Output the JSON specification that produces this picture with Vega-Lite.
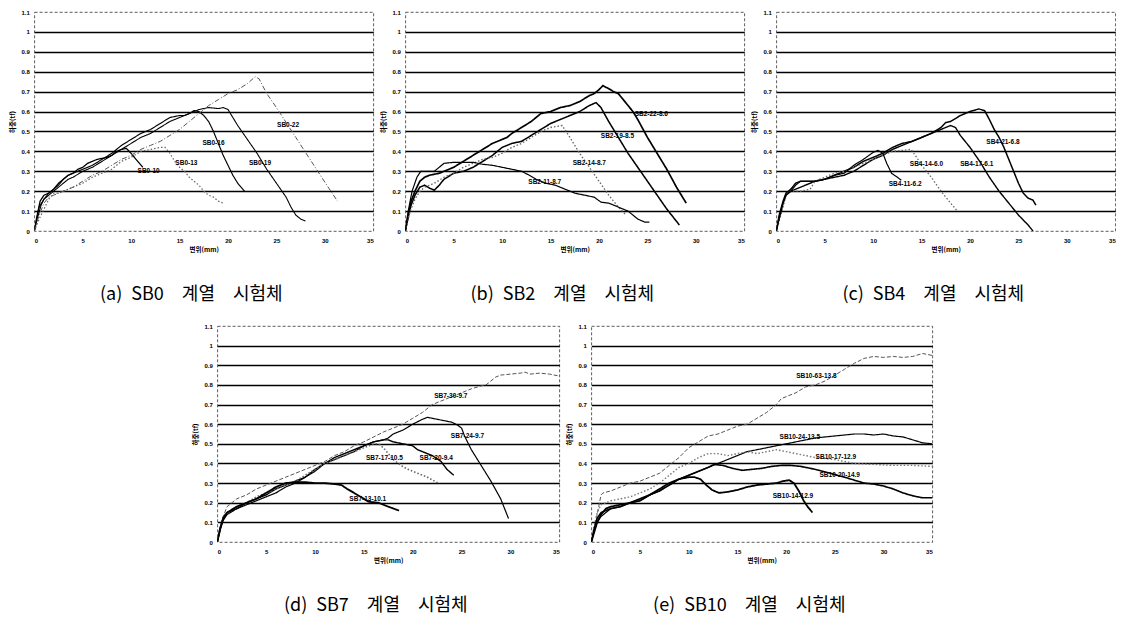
{
  "$schema": "https://vega.github.io/schema/vega-lite/v6.json",
  "background": "white",
  "padding": {"left": 8, "top": 8, "right": 0, "bottom": 0},
  "datasets": {
    "curves": [
      {"p":"a","s":"SB0-10","x":0,"y":0},{"p":"a","s":"SB0-10","x":0.3,"y":0.08},{"p":"a","s":"SB0-10","x":0.6,"y":0.15},{"p":"a","s":"SB0-10","x":1,"y":0.18},{"p":"a","s":"SB0-10","x":1.5,"y":0.19},{"p":"a","s":"SB0-10","x":2,"y":0.21},{"p":"a","s":"SB0-10","x":2.5,"y":0.24},{"p":"a","s":"SB0-10","x":3,"y":0.26},{"p":"a","s":"SB0-10","x":3.5,"y":0.28},{"p":"a","s":"SB0-10","x":4,"y":0.29},{"p":"a","s":"SB0-10","x":4.5,"y":0.31},{"p":"a","s":"SB0-10","x":5,"y":0.32},{"p":"a","s":"SB0-10","x":5.5,"y":0.34},{"p":"a","s":"SB0-10","x":6,"y":0.35},{"p":"a","s":"SB0-10","x":6.5,"y":0.36},{"p":"a","s":"SB0-10","x":7,"y":0.365},{"p":"a","s":"SB0-10","x":7.5,"y":0.37},{"p":"a","s":"SB0-10","x":8,"y":0.38},{"p":"a","s":"SB0-10","x":8.5,"y":0.4},{"p":"a","s":"SB0-10","x":9,"y":0.41},{"p":"a","s":"SB0-10","x":9.5,"y":0.415},{"p":"a","s":"SB0-10","x":10,"y":0.39},{"p":"a","s":"SB0-10","x":10.5,"y":0.36},{"p":"a","s":"SB0-10","x":11.2,"y":0.32},
      {"p":"a","s":"SB0-13","x":0,"y":0},{"p":"a","s":"SB0-13","x":0.5,"y":0.06},{"p":"a","s":"SB0-13","x":1,"y":0.11},{"p":"a","s":"SB0-13","x":1.5,"y":0.16},{"p":"a","s":"SB0-13","x":2,"y":0.19},{"p":"a","s":"SB0-13","x":2.5,"y":0.19},{"p":"a","s":"SB0-13","x":3,"y":0.2},{"p":"a","s":"SB0-13","x":4,"y":0.22},{"p":"a","s":"SB0-13","x":5,"y":0.24},{"p":"a","s":"SB0-13","x":6,"y":0.27},{"p":"a","s":"SB0-13","x":7,"y":0.29},{"p":"a","s":"SB0-13","x":8,"y":0.31},{"p":"a","s":"SB0-13","x":9,"y":0.35},{"p":"a","s":"SB0-13","x":10,"y":0.37},{"p":"a","s":"SB0-13","x":11,"y":0.4},{"p":"a","s":"SB0-13","x":12,"y":0.41},{"p":"a","s":"SB0-13","x":13,"y":0.42},{"p":"a","s":"SB0-13","x":13.5,"y":0.42},{"p":"a","s":"SB0-13","x":14,"y":0.39},{"p":"a","s":"SB0-13","x":14.5,"y":0.35},{"p":"a","s":"SB0-13","x":15,"y":0.32},{"p":"a","s":"SB0-13","x":15.5,"y":0.3},{"p":"a","s":"SB0-13","x":16,"y":0.27},{"p":"a","s":"SB0-13","x":17,"y":0.23},{"p":"a","s":"SB0-13","x":17.5,"y":0.2},{"p":"a","s":"SB0-13","x":18,"y":0.18},{"p":"a","s":"SB0-13","x":18.5,"y":0.17},{"p":"a","s":"SB0-13","x":19,"y":0.15},{"p":"a","s":"SB0-13","x":19.5,"y":0.14},
      {"p":"a","s":"SB0-16","x":0,"y":0},{"p":"a","s":"SB0-16","x":0.2,"y":0.05},{"p":"a","s":"SB0-16","x":0.5,"y":0.12},{"p":"a","s":"SB0-16","x":1,"y":0.16},{"p":"a","s":"SB0-16","x":1.5,"y":0.19},{"p":"a","s":"SB0-16","x":2,"y":0.21},{"p":"a","s":"SB0-16","x":2.5,"y":0.23},{"p":"a","s":"SB0-16","x":3,"y":0.26},{"p":"a","s":"SB0-16","x":3.5,"y":0.28},{"p":"a","s":"SB0-16","x":4,"y":0.29},{"p":"a","s":"SB0-16","x":5,"y":0.31},{"p":"a","s":"SB0-16","x":6,"y":0.33},{"p":"a","s":"SB0-16","x":7,"y":0.36},{"p":"a","s":"SB0-16","x":8,"y":0.39},{"p":"a","s":"SB0-16","x":9,"y":0.43},{"p":"a","s":"SB0-16","x":10,"y":0.46},{"p":"a","s":"SB0-16","x":11,"y":0.49},{"p":"a","s":"SB0-16","x":12,"y":0.51},{"p":"a","s":"SB0-16","x":13,"y":0.54},{"p":"a","s":"SB0-16","x":14,"y":0.57},{"p":"a","s":"SB0-16","x":15,"y":0.58},{"p":"a","s":"SB0-16","x":15.5,"y":0.58},{"p":"a","s":"SB0-16","x":16,"y":0.59},{"p":"a","s":"SB0-16","x":16.5,"y":0.605},{"p":"a","s":"SB0-16","x":17,"y":0.6},{"p":"a","s":"SB0-16","x":17.5,"y":0.58},{"p":"a","s":"SB0-16","x":18,"y":0.55},{"p":"a","s":"SB0-16","x":18.5,"y":0.5},{"p":"a","s":"SB0-16","x":19,"y":0.44},{"p":"a","s":"SB0-16","x":19.5,"y":0.38},{"p":"a","s":"SB0-16","x":20,"y":0.33},{"p":"a","s":"SB0-16","x":20.5,"y":0.28},{"p":"a","s":"SB0-16","x":21,"y":0.24},{"p":"a","s":"SB0-16","x":21.7,"y":0.2},
      {"p":"a","s":"SB0-19","x":0,"y":0},{"p":"a","s":"SB0-19","x":0.3,"y":0.06},{"p":"a","s":"SB0-19","x":0.7,"y":0.13},{"p":"a","s":"SB0-19","x":1,"y":0.16},{"p":"a","s":"SB0-19","x":1.5,"y":0.18},{"p":"a","s":"SB0-19","x":2,"y":0.2},{"p":"a","s":"SB0-19","x":2.5,"y":0.22},{"p":"a","s":"SB0-19","x":3,"y":0.24},{"p":"a","s":"SB0-19","x":3.5,"y":0.26},{"p":"a","s":"SB0-19","x":4,"y":0.27},{"p":"a","s":"SB0-19","x":5,"y":0.3},{"p":"a","s":"SB0-19","x":6,"y":0.32},{"p":"a","s":"SB0-19","x":7,"y":0.35},{"p":"a","s":"SB0-19","x":8,"y":0.38},{"p":"a","s":"SB0-19","x":9,"y":0.41},{"p":"a","s":"SB0-19","x":10,"y":0.44},{"p":"a","s":"SB0-19","x":11,"y":0.47},{"p":"a","s":"SB0-19","x":12,"y":0.49},{"p":"a","s":"SB0-19","x":13,"y":0.52},{"p":"a","s":"SB0-19","x":14,"y":0.55},{"p":"a","s":"SB0-19","x":15,"y":0.57},{"p":"a","s":"SB0-19","x":16,"y":0.59},{"p":"a","s":"SB0-19","x":17,"y":0.61},{"p":"a","s":"SB0-19","x":18,"y":0.62},{"p":"a","s":"SB0-19","x":19,"y":0.615},{"p":"a","s":"SB0-19","x":19.5,"y":0.62},{"p":"a","s":"SB0-19","x":20,"y":0.61},{"p":"a","s":"SB0-19","x":20.5,"y":0.57},{"p":"a","s":"SB0-19","x":21,"y":0.53},{"p":"a","s":"SB0-19","x":22,"y":0.46},{"p":"a","s":"SB0-19","x":23,"y":0.39},{"p":"a","s":"SB0-19","x":24,"y":0.31},{"p":"a","s":"SB0-19","x":25,"y":0.24},{"p":"a","s":"SB0-19","x":26,"y":0.17},{"p":"a","s":"SB0-19","x":26.5,"y":0.12},{"p":"a","s":"SB0-19","x":27,"y":0.08},{"p":"a","s":"SB0-19","x":27.5,"y":0.06},{"p":"a","s":"SB0-19","x":28,"y":0.05},
      {"p":"a","s":"SB0-22","x":0,"y":0},{"p":"a","s":"SB0-22","x":0.5,"y":0.08},{"p":"a","s":"SB0-22","x":1,"y":0.14},{"p":"a","s":"SB0-22","x":1.5,"y":0.17},{"p":"a","s":"SB0-22","x":2,"y":0.18},{"p":"a","s":"SB0-22","x":3,"y":0.2},{"p":"a","s":"SB0-22","x":4,"y":0.22},{"p":"a","s":"SB0-22","x":5,"y":0.25},{"p":"a","s":"SB0-22","x":6,"y":0.28},{"p":"a","s":"SB0-22","x":7,"y":0.3},{"p":"a","s":"SB0-22","x":8,"y":0.33},{"p":"a","s":"SB0-22","x":9,"y":0.36},{"p":"a","s":"SB0-22","x":10,"y":0.38},{"p":"a","s":"SB0-22","x":11,"y":0.41},{"p":"a","s":"SB0-22","x":12,"y":0.43},{"p":"a","s":"SB0-22","x":13,"y":0.45},{"p":"a","s":"SB0-22","x":14,"y":0.48},{"p":"a","s":"SB0-22","x":15,"y":0.51},{"p":"a","s":"SB0-22","x":16,"y":0.55},{"p":"a","s":"SB0-22","x":17,"y":0.59},{"p":"a","s":"SB0-22","x":18,"y":0.63},{"p":"a","s":"SB0-22","x":19,"y":0.66},{"p":"a","s":"SB0-22","x":20,"y":0.69},{"p":"a","s":"SB0-22","x":21,"y":0.71},{"p":"a","s":"SB0-22","x":22,"y":0.74},{"p":"a","s":"SB0-22","x":22.8,"y":0.775},{"p":"a","s":"SB0-22","x":23.2,"y":0.765},{"p":"a","s":"SB0-22","x":24,"y":0.69},{"p":"a","s":"SB0-22","x":25,"y":0.62},{"p":"a","s":"SB0-22","x":26,"y":0.545},{"p":"a","s":"SB0-22","x":27,"y":0.47},{"p":"a","s":"SB0-22","x":28,"y":0.395},{"p":"a","s":"SB0-22","x":29,"y":0.32},{"p":"a","s":"SB0-22","x":30,"y":0.245},{"p":"a","s":"SB0-22","x":31.3,"y":0.15},

      {"p":"b","s":"SB2-22-8.6","x":0,"y":0},{"p":"b","s":"SB2-22-8.6","x":0.3,"y":0.08},{"p":"b","s":"SB2-22-8.6","x":0.6,"y":0.15},{"p":"b","s":"SB2-22-8.6","x":1,"y":0.2},{"p":"b","s":"SB2-22-8.6","x":1.5,"y":0.25},{"p":"b","s":"SB2-22-8.6","x":2,"y":0.27},{"p":"b","s":"SB2-22-8.6","x":2.5,"y":0.28},{"p":"b","s":"SB2-22-8.6","x":3,"y":0.285},{"p":"b","s":"SB2-22-8.6","x":3.5,"y":0.29},{"p":"b","s":"SB2-22-8.6","x":4,"y":0.3},{"p":"b","s":"SB2-22-8.6","x":5,"y":0.32},{"p":"b","s":"SB2-22-8.6","x":6,"y":0.35},{"p":"b","s":"SB2-22-8.6","x":7,"y":0.38},{"p":"b","s":"SB2-22-8.6","x":8,"y":0.41},{"p":"b","s":"SB2-22-8.6","x":9,"y":0.44},{"p":"b","s":"SB2-22-8.6","x":10,"y":0.46},{"p":"b","s":"SB2-22-8.6","x":10.5,"y":0.47},{"p":"b","s":"SB2-22-8.6","x":11,"y":0.49},{"p":"b","s":"SB2-22-8.6","x":12,"y":0.52},{"p":"b","s":"SB2-22-8.6","x":13,"y":0.55},{"p":"b","s":"SB2-22-8.6","x":14,"y":0.59},{"p":"b","s":"SB2-22-8.6","x":15,"y":0.6},{"p":"b","s":"SB2-22-8.6","x":16,"y":0.62},{"p":"b","s":"SB2-22-8.6","x":17,"y":0.63},{"p":"b","s":"SB2-22-8.6","x":18,"y":0.65},{"p":"b","s":"SB2-22-8.6","x":19,"y":0.68},{"p":"b","s":"SB2-22-8.6","x":19.5,"y":0.69},{"p":"b","s":"SB2-22-8.6","x":20,"y":0.71},{"p":"b","s":"SB2-22-8.6","x":20.4,"y":0.73},{"p":"b","s":"SB2-22-8.6","x":21,"y":0.715},{"p":"b","s":"SB2-22-8.6","x":21.5,"y":0.7},{"p":"b","s":"SB2-22-8.6","x":22,"y":0.69},{"p":"b","s":"SB2-22-8.6","x":22.5,"y":0.66},{"p":"b","s":"SB2-22-8.6","x":23,"y":0.63},{"p":"b","s":"SB2-22-8.6","x":23.5,"y":0.6},{"p":"b","s":"SB2-22-8.6","x":24,"y":0.56},{"p":"b","s":"SB2-22-8.6","x":25,"y":0.47},{"p":"b","s":"SB2-22-8.6","x":26,"y":0.39},{"p":"b","s":"SB2-22-8.6","x":27,"y":0.31},{"p":"b","s":"SB2-22-8.6","x":28,"y":0.22},{"p":"b","s":"SB2-22-8.6","x":29,"y":0.14},
      {"p":"b","s":"SB2-19-8.5","x":0,"y":0},{"p":"b","s":"SB2-19-8.5","x":0.3,"y":0.07},{"p":"b","s":"SB2-19-8.5","x":0.6,"y":0.13},{"p":"b","s":"SB2-19-8.5","x":1,"y":0.18},{"p":"b","s":"SB2-19-8.5","x":1.5,"y":0.22},{"p":"b","s":"SB2-19-8.5","x":2,"y":0.23},{"p":"b","s":"SB2-19-8.5","x":2.5,"y":0.215},{"p":"b","s":"SB2-19-8.5","x":3,"y":0.205},{"p":"b","s":"SB2-19-8.5","x":3.5,"y":0.23},{"p":"b","s":"SB2-19-8.5","x":4,"y":0.26},{"p":"b","s":"SB2-19-8.5","x":5,"y":0.29},{"p":"b","s":"SB2-19-8.5","x":6,"y":0.3},{"p":"b","s":"SB2-19-8.5","x":7,"y":0.32},{"p":"b","s":"SB2-19-8.5","x":8,"y":0.35},{"p":"b","s":"SB2-19-8.5","x":9,"y":0.38},{"p":"b","s":"SB2-19-8.5","x":10,"y":0.42},{"p":"b","s":"SB2-19-8.5","x":11,"y":0.44},{"p":"b","s":"SB2-19-8.5","x":12,"y":0.45},{"p":"b","s":"SB2-19-8.5","x":13,"y":0.48},{"p":"b","s":"SB2-19-8.5","x":14,"y":0.51},{"p":"b","s":"SB2-19-8.5","x":15,"y":0.54},{"p":"b","s":"SB2-19-8.5","x":16,"y":0.56},{"p":"b","s":"SB2-19-8.5","x":17,"y":0.58},{"p":"b","s":"SB2-19-8.5","x":18,"y":0.6},{"p":"b","s":"SB2-19-8.5","x":19,"y":0.63},{"p":"b","s":"SB2-19-8.5","x":19.7,"y":0.645},{"p":"b","s":"SB2-19-8.5","x":20.2,"y":0.62},{"p":"b","s":"SB2-19-8.5","x":21,"y":0.55},{"p":"b","s":"SB2-19-8.5","x":22,"y":0.47},{"p":"b","s":"SB2-19-8.5","x":23,"y":0.39},{"p":"b","s":"SB2-19-8.5","x":24,"y":0.32},{"p":"b","s":"SB2-19-8.5","x":25,"y":0.25},{"p":"b","s":"SB2-19-8.5","x":26,"y":0.18},{"p":"b","s":"SB2-19-8.5","x":27,"y":0.11},{"p":"b","s":"SB2-19-8.5","x":28.3,"y":0.03},
      {"p":"b","s":"SB2-14-8.7","x":0,"y":0},{"p":"b","s":"SB2-14-8.7","x":0.5,"y":0.1},{"p":"b","s":"SB2-14-8.7","x":1,"y":0.16},{"p":"b","s":"SB2-14-8.7","x":1.5,"y":0.2},{"p":"b","s":"SB2-14-8.7","x":2,"y":0.22},{"p":"b","s":"SB2-14-8.7","x":3,"y":0.24},{"p":"b","s":"SB2-14-8.7","x":4,"y":0.27},{"p":"b","s":"SB2-14-8.7","x":5,"y":0.29},{"p":"b","s":"SB2-14-8.7","x":6,"y":0.32},{"p":"b","s":"SB2-14-8.7","x":7,"y":0.34},{"p":"b","s":"SB2-14-8.7","x":8,"y":0.36},{"p":"b","s":"SB2-14-8.7","x":9,"y":0.37},{"p":"b","s":"SB2-14-8.7","x":10,"y":0.39},{"p":"b","s":"SB2-14-8.7","x":11,"y":0.42},{"p":"b","s":"SB2-14-8.7","x":12,"y":0.44},{"p":"b","s":"SB2-14-8.7","x":13,"y":0.47},{"p":"b","s":"SB2-14-8.7","x":14,"y":0.5},{"p":"b","s":"SB2-14-8.7","x":15,"y":0.52},{"p":"b","s":"SB2-14-8.7","x":16.2,"y":0.53},{"p":"b","s":"SB2-14-8.7","x":17,"y":0.47},{"p":"b","s":"SB2-14-8.7","x":18,"y":0.39},{"p":"b","s":"SB2-14-8.7","x":19,"y":0.32},{"p":"b","s":"SB2-14-8.7","x":20,"y":0.25},{"p":"b","s":"SB2-14-8.7","x":21,"y":0.18},{"p":"b","s":"SB2-14-8.7","x":22,"y":0.12},{"p":"b","s":"SB2-14-8.7","x":22.8,"y":0.08},
      {"p":"b","s":"SB2-11-8.7","x":0,"y":0},{"p":"b","s":"SB2-11-8.7","x":0.3,"y":0.1},{"p":"b","s":"SB2-11-8.7","x":0.7,"y":0.2},{"p":"b","s":"SB2-11-8.7","x":1.2,"y":0.27},{"p":"b","s":"SB2-11-8.7","x":1.6,"y":0.3},{"p":"b","s":"SB2-11-8.7","x":2,"y":0.3},{"p":"b","s":"SB2-11-8.7","x":3,"y":0.3},{"p":"b","s":"SB2-11-8.7","x":3.5,"y":0.32},{"p":"b","s":"SB2-11-8.7","x":4,"y":0.34},{"p":"b","s":"SB2-11-8.7","x":5,"y":0.345},{"p":"b","s":"SB2-11-8.7","x":6,"y":0.345},{"p":"b","s":"SB2-11-8.7","x":7,"y":0.345},{"p":"b","s":"SB2-11-8.7","x":8,"y":0.335},{"p":"b","s":"SB2-11-8.7","x":9,"y":0.33},{"p":"b","s":"SB2-11-8.7","x":10,"y":0.32},{"p":"b","s":"SB2-11-8.7","x":11,"y":0.31},{"p":"b","s":"SB2-11-8.7","x":12,"y":0.3},{"p":"b","s":"SB2-11-8.7","x":12.8,"y":0.28},{"p":"b","s":"SB2-11-8.7","x":13.5,"y":0.26},{"p":"b","s":"SB2-11-8.7","x":14.5,"y":0.24},{"p":"b","s":"SB2-11-8.7","x":15.5,"y":0.23},{"p":"b","s":"SB2-11-8.7","x":16.5,"y":0.21},{"p":"b","s":"SB2-11-8.7","x":17.5,"y":0.19},{"p":"b","s":"SB2-11-8.7","x":18.5,"y":0.18},{"p":"b","s":"SB2-11-8.7","x":19.5,"y":0.17},{"p":"b","s":"SB2-11-8.7","x":20.2,"y":0.145},{"p":"b","s":"SB2-11-8.7","x":21,"y":0.14},{"p":"b","s":"SB2-11-8.7","x":22,"y":0.12},{"p":"b","s":"SB2-11-8.7","x":23,"y":0.1},{"p":"b","s":"SB2-11-8.7","x":23.5,"y":0.08},{"p":"b","s":"SB2-11-8.7","x":24,"y":0.06},{"p":"b","s":"SB2-11-8.7","x":24.7,"y":0.045},{"p":"b","s":"SB2-11-8.7","x":25.2,"y":0.045},

      {"p":"c","s":"SB4-21-6.8","x":0,"y":0},{"p":"c","s":"SB4-21-6.8","x":0.3,"y":0.08},{"p":"c","s":"SB4-21-6.8","x":0.7,"y":0.15},{"p":"c","s":"SB4-21-6.8","x":1,"y":0.19},{"p":"c","s":"SB4-21-6.8","x":1.5,"y":0.21},{"p":"c","s":"SB4-21-6.8","x":2,"y":0.24},{"p":"c","s":"SB4-21-6.8","x":2.5,"y":0.25},{"p":"c","s":"SB4-21-6.8","x":3,"y":0.25},{"p":"c","s":"SB4-21-6.8","x":4,"y":0.25},{"p":"c","s":"SB4-21-6.8","x":5,"y":0.26},{"p":"c","s":"SB4-21-6.8","x":6,"y":0.28},{"p":"c","s":"SB4-21-6.8","x":7,"y":0.3},{"p":"c","s":"SB4-21-6.8","x":8,"y":0.32},{"p":"c","s":"SB4-21-6.8","x":9,"y":0.35},{"p":"c","s":"SB4-21-6.8","x":10,"y":0.37},{"p":"c","s":"SB4-21-6.8","x":11,"y":0.39},{"p":"c","s":"SB4-21-6.8","x":12,"y":0.42},{"p":"c","s":"SB4-21-6.8","x":13,"y":0.44},{"p":"c","s":"SB4-21-6.8","x":14,"y":0.45},{"p":"c","s":"SB4-21-6.8","x":15,"y":0.47},{"p":"c","s":"SB4-21-6.8","x":16,"y":0.49},{"p":"c","s":"SB4-21-6.8","x":17,"y":0.52},{"p":"c","s":"SB4-21-6.8","x":17.5,"y":0.545},{"p":"c","s":"SB4-21-6.8","x":18,"y":0.55},{"p":"c","s":"SB4-21-6.8","x":19,"y":0.58},{"p":"c","s":"SB4-21-6.8","x":20,"y":0.6},{"p":"c","s":"SB4-21-6.8","x":20.9,"y":0.613},{"p":"c","s":"SB4-21-6.8","x":21.5,"y":0.605},{"p":"c","s":"SB4-21-6.8","x":22,"y":0.56},{"p":"c","s":"SB4-21-6.8","x":22.5,"y":0.51},{"p":"c","s":"SB4-21-6.8","x":23,"y":0.47},{"p":"c","s":"SB4-21-6.8","x":23.5,"y":0.42},{"p":"c","s":"SB4-21-6.8","x":24,"y":0.36},{"p":"c","s":"SB4-21-6.8","x":24.5,"y":0.3},{"p":"c","s":"SB4-21-6.8","x":25,"y":0.24},{"p":"c","s":"SB4-21-6.8","x":25.5,"y":0.19},{"p":"c","s":"SB4-21-6.8","x":26,"y":0.165},{"p":"c","s":"SB4-21-6.8","x":26.5,"y":0.155},{"p":"c","s":"SB4-21-6.8","x":26.8,"y":0.13},
      {"p":"c","s":"SB4-17-6.1","x":0,"y":0},{"p":"c","s":"SB4-17-6.1","x":0.3,"y":0.07},{"p":"c","s":"SB4-17-6.1","x":0.7,"y":0.14},{"p":"c","s":"SB4-17-6.1","x":1,"y":0.18},{"p":"c","s":"SB4-17-6.1","x":1.5,"y":0.2},{"p":"c","s":"SB4-17-6.1","x":2,"y":0.21},{"p":"c","s":"SB4-17-6.1","x":3,"y":0.23},{"p":"c","s":"SB4-17-6.1","x":4,"y":0.25},{"p":"c","s":"SB4-17-6.1","x":5,"y":0.26},{"p":"c","s":"SB4-17-6.1","x":6,"y":0.27},{"p":"c","s":"SB4-17-6.1","x":7,"y":0.28},{"p":"c","s":"SB4-17-6.1","x":8,"y":0.3},{"p":"c","s":"SB4-17-6.1","x":9,"y":0.33},{"p":"c","s":"SB4-17-6.1","x":10,"y":0.36},{"p":"c","s":"SB4-17-6.1","x":11,"y":0.38},{"p":"c","s":"SB4-17-6.1","x":12,"y":0.41},{"p":"c","s":"SB4-17-6.1","x":13,"y":0.43},{"p":"c","s":"SB4-17-6.1","x":14,"y":0.45},{"p":"c","s":"SB4-17-6.1","x":15,"y":0.47},{"p":"c","s":"SB4-17-6.1","x":16,"y":0.49},{"p":"c","s":"SB4-17-6.1","x":17,"y":0.51},{"p":"c","s":"SB4-17-6.1","x":18,"y":0.53},{"p":"c","s":"SB4-17-6.1","x":18.5,"y":0.52},{"p":"c","s":"SB4-17-6.1","x":19,"y":0.48},{"p":"c","s":"SB4-17-6.1","x":20,"y":0.42},{"p":"c","s":"SB4-17-6.1","x":21,"y":0.35},{"p":"c","s":"SB4-17-6.1","x":22,"y":0.27},{"p":"c","s":"SB4-17-6.1","x":23,"y":0.2},{"p":"c","s":"SB4-17-6.1","x":24,"y":0.14},{"p":"c","s":"SB4-17-6.1","x":25,"y":0.08},{"p":"c","s":"SB4-17-6.1","x":26,"y":0.03},{"p":"c","s":"SB4-17-6.1","x":26.5,"y":0.0},
      {"p":"c","s":"SB4-14-6.0","x":0,"y":0},{"p":"c","s":"SB4-14-6.0","x":0.3,"y":0.05},{"p":"c","s":"SB4-14-6.0","x":0.7,"y":0.12},{"p":"c","s":"SB4-14-6.0","x":1,"y":0.18},{"p":"c","s":"SB4-14-6.0","x":1.5,"y":0.2},{"p":"c","s":"SB4-14-6.0","x":2,"y":0.2},{"p":"c","s":"SB4-14-6.0","x":2.5,"y":0.2},{"p":"c","s":"SB4-14-6.0","x":3,"y":0.205},{"p":"c","s":"SB4-14-6.0","x":3.5,"y":0.21},{"p":"c","s":"SB4-14-6.0","x":4,"y":0.25},{"p":"c","s":"SB4-14-6.0","x":5,"y":0.27},{"p":"c","s":"SB4-14-6.0","x":6,"y":0.29},{"p":"c","s":"SB4-14-6.0","x":7,"y":0.3},{"p":"c","s":"SB4-14-6.0","x":8,"y":0.32},{"p":"c","s":"SB4-14-6.0","x":9,"y":0.34},{"p":"c","s":"SB4-14-6.0","x":10,"y":0.36},{"p":"c","s":"SB4-14-6.0","x":11,"y":0.38},{"p":"c","s":"SB4-14-6.0","x":12,"y":0.4},{"p":"c","s":"SB4-14-6.0","x":13,"y":0.405},{"p":"c","s":"SB4-14-6.0","x":13.9,"y":0.41},{"p":"c","s":"SB4-14-6.0","x":14.5,"y":0.37},{"p":"c","s":"SB4-14-6.0","x":15,"y":0.33},{"p":"c","s":"SB4-14-6.0","x":16,"y":0.27},{"p":"c","s":"SB4-14-6.0","x":17,"y":0.2},{"p":"c","s":"SB4-14-6.0","x":18,"y":0.14},{"p":"c","s":"SB4-14-6.0","x":18.7,"y":0.1},
      {"p":"c","s":"SB4-11-6.2","x":0,"y":0},{"p":"c","s":"SB4-11-6.2","x":0.3,"y":0.06},{"p":"c","s":"SB4-11-6.2","x":0.7,"y":0.14},{"p":"c","s":"SB4-11-6.2","x":1,"y":0.18},{"p":"c","s":"SB4-11-6.2","x":1.5,"y":0.2},{"p":"c","s":"SB4-11-6.2","x":2,"y":0.23},{"p":"c","s":"SB4-11-6.2","x":2.5,"y":0.25},{"p":"c","s":"SB4-11-6.2","x":3,"y":0.25},{"p":"c","s":"SB4-11-6.2","x":4,"y":0.25},{"p":"c","s":"SB4-11-6.2","x":5,"y":0.26},{"p":"c","s":"SB4-11-6.2","x":6,"y":0.28},{"p":"c","s":"SB4-11-6.2","x":7,"y":0.29},{"p":"c","s":"SB4-11-6.2","x":8,"y":0.33},{"p":"c","s":"SB4-11-6.2","x":9,"y":0.36},{"p":"c","s":"SB4-11-6.2","x":10,"y":0.395},{"p":"c","s":"SB4-11-6.2","x":10.5,"y":0.405},{"p":"c","s":"SB4-11-6.2","x":11,"y":0.39},{"p":"c","s":"SB4-11-6.2","x":11.4,"y":0.34},{"p":"c","s":"SB4-11-6.2","x":11.9,"y":0.29},{"p":"c","s":"SB4-11-6.2","x":12.5,"y":0.27},{"p":"c","s":"SB4-11-6.2","x":12.9,"y":0.255},

      {"p":"d","s":"SB7-30-9.7","x":0,"y":0},{"p":"d","s":"SB7-30-9.7","x":0.3,"y":0.07},{"p":"d","s":"SB7-30-9.7","x":0.6,"y":0.13},{"p":"d","s":"SB7-30-9.7","x":1,"y":0.18},{"p":"d","s":"SB7-30-9.7","x":1.5,"y":0.2},{"p":"d","s":"SB7-30-9.7","x":2,"y":0.22},{"p":"d","s":"SB7-30-9.7","x":3,"y":0.24},{"p":"d","s":"SB7-30-9.7","x":4,"y":0.27},{"p":"d","s":"SB7-30-9.7","x":5,"y":0.29},{"p":"d","s":"SB7-30-9.7","x":6,"y":0.31},{"p":"d","s":"SB7-30-9.7","x":7,"y":0.33},{"p":"d","s":"SB7-30-9.7","x":8,"y":0.35},{"p":"d","s":"SB7-30-9.7","x":9,"y":0.37},{"p":"d","s":"SB7-30-9.7","x":10,"y":0.39},{"p":"d","s":"SB7-30-9.7","x":11,"y":0.41},{"p":"d","s":"SB7-30-9.7","x":12,"y":0.44},{"p":"d","s":"SB7-30-9.7","x":13,"y":0.46},{"p":"d","s":"SB7-30-9.7","x":14,"y":0.49},{"p":"d","s":"SB7-30-9.7","x":15,"y":0.51},{"p":"d","s":"SB7-30-9.7","x":16,"y":0.535},{"p":"d","s":"SB7-30-9.7","x":17,"y":0.56},{"p":"d","s":"SB7-30-9.7","x":18,"y":0.58},{"p":"d","s":"SB7-30-9.7","x":19,"y":0.6},{"p":"d","s":"SB7-30-9.7","x":20,"y":0.63},{"p":"d","s":"SB7-30-9.7","x":21,"y":0.66},{"p":"d","s":"SB7-30-9.7","x":22,"y":0.7},{"p":"d","s":"SB7-30-9.7","x":23,"y":0.72},{"p":"d","s":"SB7-30-9.7","x":24,"y":0.74},{"p":"d","s":"SB7-30-9.7","x":25,"y":0.76},{"p":"d","s":"SB7-30-9.7","x":26,"y":0.78},{"p":"d","s":"SB7-30-9.7","x":27,"y":0.795},{"p":"d","s":"SB7-30-9.7","x":27.5,"y":0.8},{"p":"d","s":"SB7-30-9.7","x":28,"y":0.82},{"p":"d","s":"SB7-30-9.7","x":28.5,"y":0.84},{"p":"d","s":"SB7-30-9.7","x":29,"y":0.85},{"p":"d","s":"SB7-30-9.7","x":30,"y":0.855},{"p":"d","s":"SB7-30-9.7","x":31,"y":0.86},{"p":"d","s":"SB7-30-9.7","x":31.5,"y":0.865},{"p":"d","s":"SB7-30-9.7","x":32,"y":0.855},{"p":"d","s":"SB7-30-9.7","x":33,"y":0.86},{"p":"d","s":"SB7-30-9.7","x":34,"y":0.855},{"p":"d","s":"SB7-30-9.7","x":35,"y":0.845},
      {"p":"d","s":"SB7-24-9.7","x":0,"y":0},{"p":"d","s":"SB7-24-9.7","x":0.3,"y":0.06},{"p":"d","s":"SB7-24-9.7","x":0.6,"y":0.11},{"p":"d","s":"SB7-24-9.7","x":1,"y":0.14},{"p":"d","s":"SB7-24-9.7","x":1.5,"y":0.155},{"p":"d","s":"SB7-24-9.7","x":2,"y":0.17},{"p":"d","s":"SB7-24-9.7","x":3,"y":0.19},{"p":"d","s":"SB7-24-9.7","x":4,"y":0.21},{"p":"d","s":"SB7-24-9.7","x":5,"y":0.23},{"p":"d","s":"SB7-24-9.7","x":6,"y":0.25},{"p":"d","s":"SB7-24-9.7","x":7,"y":0.28},{"p":"d","s":"SB7-24-9.7","x":8,"y":0.3},{"p":"d","s":"SB7-24-9.7","x":9,"y":0.33},{"p":"d","s":"SB7-24-9.7","x":10,"y":0.36},{"p":"d","s":"SB7-24-9.7","x":11,"y":0.4},{"p":"d","s":"SB7-24-9.7","x":12,"y":0.42},{"p":"d","s":"SB7-24-9.7","x":13,"y":0.44},{"p":"d","s":"SB7-24-9.7","x":14,"y":0.46},{"p":"d","s":"SB7-24-9.7","x":15,"y":0.49},{"p":"d","s":"SB7-24-9.7","x":16,"y":0.51},{"p":"d","s":"SB7-24-9.7","x":17,"y":0.52},{"p":"d","s":"SB7-24-9.7","x":17.5,"y":0.53},{"p":"d","s":"SB7-24-9.7","x":18,"y":0.55},{"p":"d","s":"SB7-24-9.7","x":19,"y":0.57},{"p":"d","s":"SB7-24-9.7","x":20,"y":0.6},{"p":"d","s":"SB7-24-9.7","x":21,"y":0.625},{"p":"d","s":"SB7-24-9.7","x":21.5,"y":0.635},{"p":"d","s":"SB7-24-9.7","x":22,"y":0.63},{"p":"d","s":"SB7-24-9.7","x":23,"y":0.62},{"p":"d","s":"SB7-24-9.7","x":24,"y":0.61},{"p":"d","s":"SB7-24-9.7","x":24.6,"y":0.595},{"p":"d","s":"SB7-24-9.7","x":25,"y":0.58},{"p":"d","s":"SB7-24-9.7","x":25.3,"y":0.54},{"p":"d","s":"SB7-24-9.7","x":26,"y":0.47},{"p":"d","s":"SB7-24-9.7","x":27,"y":0.39},{"p":"d","s":"SB7-24-9.7","x":28,"y":0.31},{"p":"d","s":"SB7-24-9.7","x":29,"y":0.22},{"p":"d","s":"SB7-24-9.7","x":29.8,"y":0.12},
      {"p":"d","s":"SB7-20-9.4","x":0,"y":0},{"p":"d","s":"SB7-20-9.4","x":0.3,"y":0.07},{"p":"d","s":"SB7-20-9.4","x":0.6,"y":0.12},{"p":"d","s":"SB7-20-9.4","x":1,"y":0.15},{"p":"d","s":"SB7-20-9.4","x":2,"y":0.17},{"p":"d","s":"SB7-20-9.4","x":3,"y":0.2},{"p":"d","s":"SB7-20-9.4","x":4,"y":0.22},{"p":"d","s":"SB7-20-9.4","x":5,"y":0.24},{"p":"d","s":"SB7-20-9.4","x":6,"y":0.27},{"p":"d","s":"SB7-20-9.4","x":7,"y":0.29},{"p":"d","s":"SB7-20-9.4","x":8,"y":0.31},{"p":"d","s":"SB7-20-9.4","x":9,"y":0.33},{"p":"d","s":"SB7-20-9.4","x":10,"y":0.37},{"p":"d","s":"SB7-20-9.4","x":11,"y":0.4},{"p":"d","s":"SB7-20-9.4","x":12,"y":0.43},{"p":"d","s":"SB7-20-9.4","x":13,"y":0.45},{"p":"d","s":"SB7-20-9.4","x":14,"y":0.47},{"p":"d","s":"SB7-20-9.4","x":15,"y":0.49},{"p":"d","s":"SB7-20-9.4","x":16,"y":0.51},{"p":"d","s":"SB7-20-9.4","x":17,"y":0.52},{"p":"d","s":"SB7-20-9.4","x":17.5,"y":0.52},{"p":"d","s":"SB7-20-9.4","x":18,"y":0.51},{"p":"d","s":"SB7-20-9.4","x":19,"y":0.5},{"p":"d","s":"SB7-20-9.4","x":20,"y":0.49},{"p":"d","s":"SB7-20-9.4","x":20.5,"y":0.47},{"p":"d","s":"SB7-20-9.4","x":21,"y":0.46},{"p":"d","s":"SB7-20-9.4","x":22,"y":0.44},{"p":"d","s":"SB7-20-9.4","x":22.9,"y":0.41},{"p":"d","s":"SB7-20-9.4","x":23.5,"y":0.37},{"p":"d","s":"SB7-20-9.4","x":24.2,"y":0.34},
      {"p":"d","s":"SB7-17-10.5","x":0,"y":0},{"p":"d","s":"SB7-17-10.5","x":0.3,"y":0.08},{"p":"d","s":"SB7-17-10.5","x":0.6,"y":0.13},{"p":"d","s":"SB7-17-10.5","x":1,"y":0.15},{"p":"d","s":"SB7-17-10.5","x":2,"y":0.18},{"p":"d","s":"SB7-17-10.5","x":3,"y":0.2},{"p":"d","s":"SB7-17-10.5","x":4,"y":0.23},{"p":"d","s":"SB7-17-10.5","x":5,"y":0.25},{"p":"d","s":"SB7-17-10.5","x":6,"y":0.27},{"p":"d","s":"SB7-17-10.5","x":7,"y":0.29},{"p":"d","s":"SB7-17-10.5","x":8,"y":0.31},{"p":"d","s":"SB7-17-10.5","x":9,"y":0.34},{"p":"d","s":"SB7-17-10.5","x":10,"y":0.37},{"p":"d","s":"SB7-17-10.5","x":11,"y":0.4},{"p":"d","s":"SB7-17-10.5","x":12,"y":0.42},{"p":"d","s":"SB7-17-10.5","x":13,"y":0.44},{"p":"d","s":"SB7-17-10.5","x":14,"y":0.46},{"p":"d","s":"SB7-17-10.5","x":15,"y":0.48},{"p":"d","s":"SB7-17-10.5","x":16,"y":0.5},{"p":"d","s":"SB7-17-10.5","x":16.5,"y":0.5},{"p":"d","s":"SB7-17-10.5","x":17,"y":0.48},{"p":"d","s":"SB7-17-10.5","x":17.5,"y":0.45},{"p":"d","s":"SB7-17-10.5","x":18,"y":0.42},{"p":"d","s":"SB7-17-10.5","x":18.8,"y":0.39},{"p":"d","s":"SB7-17-10.5","x":19.5,"y":0.37},{"p":"d","s":"SB7-17-10.5","x":20.5,"y":0.35},{"p":"d","s":"SB7-17-10.5","x":21.5,"y":0.33},{"p":"d","s":"SB7-17-10.5","x":22.6,"y":0.3},
      {"p":"d","s":"SB7-13-10.1","x":0,"y":0},{"p":"d","s":"SB7-13-10.1","x":0.3,"y":0.07},{"p":"d","s":"SB7-13-10.1","x":0.6,"y":0.12},{"p":"d","s":"SB7-13-10.1","x":1,"y":0.15},{"p":"d","s":"SB7-13-10.1","x":2,"y":0.18},{"p":"d","s":"SB7-13-10.1","x":3,"y":0.2},{"p":"d","s":"SB7-13-10.1","x":4,"y":0.22},{"p":"d","s":"SB7-13-10.1","x":5,"y":0.25},{"p":"d","s":"SB7-13-10.1","x":6,"y":0.28},{"p":"d","s":"SB7-13-10.1","x":7,"y":0.3},{"p":"d","s":"SB7-13-10.1","x":8,"y":0.305},{"p":"d","s":"SB7-13-10.1","x":9,"y":0.305},{"p":"d","s":"SB7-13-10.1","x":10,"y":0.3},{"p":"d","s":"SB7-13-10.1","x":11,"y":0.3},{"p":"d","s":"SB7-13-10.1","x":12,"y":0.295},{"p":"d","s":"SB7-13-10.1","x":12.7,"y":0.29},{"p":"d","s":"SB7-13-10.1","x":13.3,"y":0.27},{"p":"d","s":"SB7-13-10.1","x":14,"y":0.25},{"p":"d","s":"SB7-13-10.1","x":15,"y":0.22},{"p":"d","s":"SB7-13-10.1","x":15.5,"y":0.205},{"p":"d","s":"SB7-13-10.1","x":16.5,"y":0.2},{"p":"d","s":"SB7-13-10.1","x":17.5,"y":0.18},{"p":"d","s":"SB7-13-10.1","x":18.6,"y":0.16},

      {"p":"e","s":"SB10-63-13.8","x":0,"y":0},{"p":"e","s":"SB10-63-13.8","x":0.3,"y":0.06},{"p":"e","s":"SB10-63-13.8","x":0.6,"y":0.14},{"p":"e","s":"SB10-63-13.8","x":1,"y":0.24},{"p":"e","s":"SB10-63-13.8","x":1.2,"y":0.25},{"p":"e","s":"SB10-63-13.8","x":2,"y":0.26},{"p":"e","s":"SB10-63-13.8","x":3,"y":0.28},{"p":"e","s":"SB10-63-13.8","x":4,"y":0.3},{"p":"e","s":"SB10-63-13.8","x":5,"y":0.31},{"p":"e","s":"SB10-63-13.8","x":6,"y":0.33},{"p":"e","s":"SB10-63-13.8","x":7,"y":0.35},{"p":"e","s":"SB10-63-13.8","x":8,"y":0.39},{"p":"e","s":"SB10-63-13.8","x":9,"y":0.43},{"p":"e","s":"SB10-63-13.8","x":10,"y":0.48},{"p":"e","s":"SB10-63-13.8","x":11,"y":0.51},{"p":"e","s":"SB10-63-13.8","x":12,"y":0.54},{"p":"e","s":"SB10-63-13.8","x":13,"y":0.55},{"p":"e","s":"SB10-63-13.8","x":14,"y":0.57},{"p":"e","s":"SB10-63-13.8","x":15,"y":0.59},{"p":"e","s":"SB10-63-13.8","x":16,"y":0.6},{"p":"e","s":"SB10-63-13.8","x":17,"y":0.63},{"p":"e","s":"SB10-63-13.8","x":18,"y":0.66},{"p":"e","s":"SB10-63-13.8","x":19,"y":0.7},{"p":"e","s":"SB10-63-13.8","x":19.5,"y":0.73},{"p":"e","s":"SB10-63-13.8","x":20,"y":0.74},{"p":"e","s":"SB10-63-13.8","x":21,"y":0.76},{"p":"e","s":"SB10-63-13.8","x":22,"y":0.79},{"p":"e","s":"SB10-63-13.8","x":23,"y":0.8},{"p":"e","s":"SB10-63-13.8","x":24,"y":0.82},{"p":"e","s":"SB10-63-13.8","x":25,"y":0.85},{"p":"e","s":"SB10-63-13.8","x":26,"y":0.88},{"p":"e","s":"SB10-63-13.8","x":27,"y":0.91},{"p":"e","s":"SB10-63-13.8","x":28,"y":0.935},{"p":"e","s":"SB10-63-13.8","x":29,"y":0.945},{"p":"e","s":"SB10-63-13.8","x":30,"y":0.94},{"p":"e","s":"SB10-63-13.8","x":31,"y":0.945},{"p":"e","s":"SB10-63-13.8","x":32,"y":0.94},{"p":"e","s":"SB10-63-13.8","x":33,"y":0.945},{"p":"e","s":"SB10-63-13.8","x":34,"y":0.96},{"p":"e","s":"SB10-63-13.8","x":35,"y":0.95},
      {"p":"e","s":"SB10-24-13.5","x":0,"y":0},{"p":"e","s":"SB10-24-13.5","x":0.3,"y":0.06},{"p":"e","s":"SB10-24-13.5","x":0.6,"y":0.1},{"p":"e","s":"SB10-24-13.5","x":1,"y":0.13},{"p":"e","s":"SB10-24-13.5","x":1.5,"y":0.15},{"p":"e","s":"SB10-24-13.5","x":2,"y":0.17},{"p":"e","s":"SB10-24-13.5","x":3,"y":0.18},{"p":"e","s":"SB10-24-13.5","x":4,"y":0.2},{"p":"e","s":"SB10-24-13.5","x":5,"y":0.21},{"p":"e","s":"SB10-24-13.5","x":6,"y":0.24},{"p":"e","s":"SB10-24-13.5","x":7,"y":0.26},{"p":"e","s":"SB10-24-13.5","x":8,"y":0.29},{"p":"e","s":"SB10-24-13.5","x":9,"y":0.32},{"p":"e","s":"SB10-24-13.5","x":10,"y":0.34},{"p":"e","s":"SB10-24-13.5","x":11,"y":0.36},{"p":"e","s":"SB10-24-13.5","x":12,"y":0.38},{"p":"e","s":"SB10-24-13.5","x":13,"y":0.4},{"p":"e","s":"SB10-24-13.5","x":14,"y":0.42},{"p":"e","s":"SB10-24-13.5","x":15,"y":0.44},{"p":"e","s":"SB10-24-13.5","x":16,"y":0.46},{"p":"e","s":"SB10-24-13.5","x":17,"y":0.47},{"p":"e","s":"SB10-24-13.5","x":18,"y":0.48},{"p":"e","s":"SB10-24-13.5","x":19,"y":0.49},{"p":"e","s":"SB10-24-13.5","x":20,"y":0.5},{"p":"e","s":"SB10-24-13.5","x":21,"y":0.51},{"p":"e","s":"SB10-24-13.5","x":22,"y":0.52},{"p":"e","s":"SB10-24-13.5","x":23,"y":0.53},{"p":"e","s":"SB10-24-13.5","x":24,"y":0.535},{"p":"e","s":"SB10-24-13.5","x":25,"y":0.54},{"p":"e","s":"SB10-24-13.5","x":26,"y":0.545},{"p":"e","s":"SB10-24-13.5","x":27,"y":0.55},{"p":"e","s":"SB10-24-13.5","x":28,"y":0.55},{"p":"e","s":"SB10-24-13.5","x":29,"y":0.545},{"p":"e","s":"SB10-24-13.5","x":30,"y":0.55},{"p":"e","s":"SB10-24-13.5","x":31,"y":0.54},{"p":"e","s":"SB10-24-13.5","x":32,"y":0.535},{"p":"e","s":"SB10-24-13.5","x":33,"y":0.52},{"p":"e","s":"SB10-24-13.5","x":34,"y":0.505},{"p":"e","s":"SB10-24-13.5","x":35,"y":0.5},
      {"p":"e","s":"SB10-17-12.9","x":0,"y":0},{"p":"e","s":"SB10-17-12.9","x":0.3,"y":0.08},{"p":"e","s":"SB10-17-12.9","x":0.6,"y":0.15},{"p":"e","s":"SB10-17-12.9","x":1,"y":0.19},{"p":"e","s":"SB10-17-12.9","x":2,"y":0.21},{"p":"e","s":"SB10-17-12.9","x":3,"y":0.22},{"p":"e","s":"SB10-17-12.9","x":4,"y":0.23},{"p":"e","s":"SB10-17-12.9","x":5,"y":0.25},{"p":"e","s":"SB10-17-12.9","x":6,"y":0.27},{"p":"e","s":"SB10-17-12.9","x":7,"y":0.3},{"p":"e","s":"SB10-17-12.9","x":8,"y":0.34},{"p":"e","s":"SB10-17-12.9","x":9,"y":0.38},{"p":"e","s":"SB10-17-12.9","x":10,"y":0.4},{"p":"e","s":"SB10-17-12.9","x":11,"y":0.43},{"p":"e","s":"SB10-17-12.9","x":12,"y":0.45},{"p":"e","s":"SB10-17-12.9","x":13,"y":0.45},{"p":"e","s":"SB10-17-12.9","x":14,"y":0.44},{"p":"e","s":"SB10-17-12.9","x":15,"y":0.45},{"p":"e","s":"SB10-17-12.9","x":16,"y":0.46},{"p":"e","s":"SB10-17-12.9","x":17,"y":0.45},{"p":"e","s":"SB10-17-12.9","x":18,"y":0.46},{"p":"e","s":"SB10-17-12.9","x":19,"y":0.47},{"p":"e","s":"SB10-17-12.9","x":20,"y":0.46},{"p":"e","s":"SB10-17-12.9","x":21,"y":0.45},{"p":"e","s":"SB10-17-12.9","x":22,"y":0.44},{"p":"e","s":"SB10-17-12.9","x":23,"y":0.43},{"p":"e","s":"SB10-17-12.9","x":25,"y":0.42},{"p":"e","s":"SB10-17-12.9","x":27,"y":0.4},{"p":"e","s":"SB10-17-12.9","x":29,"y":0.395},{"p":"e","s":"SB10-17-12.9","x":31,"y":0.39},{"p":"e","s":"SB10-17-12.9","x":33,"y":0.39},{"p":"e","s":"SB10-17-12.9","x":35,"y":0.385},
      {"p":"e","s":"SB10-20-14.9","x":0,"y":0},{"p":"e","s":"SB10-20-14.9","x":0.3,"y":0.07},{"p":"e","s":"SB10-20-14.9","x":0.6,"y":0.12},{"p":"e","s":"SB10-20-14.9","x":1,"y":0.15},{"p":"e","s":"SB10-20-14.9","x":2,"y":0.17},{"p":"e","s":"SB10-20-14.9","x":3,"y":0.18},{"p":"e","s":"SB10-20-14.9","x":4,"y":0.2},{"p":"e","s":"SB10-20-14.9","x":5,"y":0.21},{"p":"e","s":"SB10-20-14.9","x":6,"y":0.24},{"p":"e","s":"SB10-20-14.9","x":7,"y":0.26},{"p":"e","s":"SB10-20-14.9","x":8,"y":0.29},{"p":"e","s":"SB10-20-14.9","x":9,"y":0.32},{"p":"e","s":"SB10-20-14.9","x":10,"y":0.34},{"p":"e","s":"SB10-20-14.9","x":11,"y":0.36},{"p":"e","s":"SB10-20-14.9","x":12,"y":0.38},{"p":"e","s":"SB10-20-14.9","x":12.6,"y":0.395},{"p":"e","s":"SB10-20-14.9","x":13.5,"y":0.39},{"p":"e","s":"SB10-20-14.9","x":14.5,"y":0.375},{"p":"e","s":"SB10-20-14.9","x":15.5,"y":0.365},{"p":"e","s":"SB10-20-14.9","x":16.5,"y":0.37},{"p":"e","s":"SB10-20-14.9","x":17.5,"y":0.375},{"p":"e","s":"SB10-20-14.9","x":18.5,"y":0.385},{"p":"e","s":"SB10-20-14.9","x":19.5,"y":0.39},{"p":"e","s":"SB10-20-14.9","x":20.5,"y":0.39},{"p":"e","s":"SB10-20-14.9","x":21.5,"y":0.385},{"p":"e","s":"SB10-20-14.9","x":22.5,"y":0.375},{"p":"e","s":"SB10-20-14.9","x":23.4,"y":0.365},{"p":"e","s":"SB10-20-14.9","x":24.5,"y":0.35},{"p":"e","s":"SB10-20-14.9","x":26,"y":0.33},{"p":"e","s":"SB10-20-14.9","x":27,"y":0.315},{"p":"e","s":"SB10-20-14.9","x":28,"y":0.3},{"p":"e","s":"SB10-20-14.9","x":29,"y":0.295},{"p":"e","s":"SB10-20-14.9","x":30,"y":0.285},{"p":"e","s":"SB10-20-14.9","x":31,"y":0.27},{"p":"e","s":"SB10-20-14.9","x":32,"y":0.25},{"p":"e","s":"SB10-20-14.9","x":33,"y":0.235},{"p":"e","s":"SB10-20-14.9","x":34,"y":0.225},{"p":"e","s":"SB10-20-14.9","x":35,"y":0.225},
      {"p":"e","s":"SB10-14-12.9","x":0,"y":0},{"p":"e","s":"SB10-14-12.9","x":0.3,"y":0.05},{"p":"e","s":"SB10-14-12.9","x":0.6,"y":0.1},{"p":"e","s":"SB10-14-12.9","x":1,"y":0.14},{"p":"e","s":"SB10-14-12.9","x":1.5,"y":0.17},{"p":"e","s":"SB10-14-12.9","x":2,"y":0.18},{"p":"e","s":"SB10-14-12.9","x":3,"y":0.19},{"p":"e","s":"SB10-14-12.9","x":4,"y":0.2},{"p":"e","s":"SB10-14-12.9","x":5,"y":0.22},{"p":"e","s":"SB10-14-12.9","x":6,"y":0.24},{"p":"e","s":"SB10-14-12.9","x":7,"y":0.27},{"p":"e","s":"SB10-14-12.9","x":8,"y":0.3},{"p":"e","s":"SB10-14-12.9","x":9,"y":0.32},{"p":"e","s":"SB10-14-12.9","x":10,"y":0.33},{"p":"e","s":"SB10-14-12.9","x":10.6,"y":0.33},{"p":"e","s":"SB10-14-12.9","x":11.2,"y":0.32},{"p":"e","s":"SB10-14-12.9","x":11.8,"y":0.29},{"p":"e","s":"SB10-14-12.9","x":12.4,"y":0.265},{"p":"e","s":"SB10-14-12.9","x":13.1,"y":0.25},{"p":"e","s":"SB10-14-12.9","x":14,"y":0.255},{"p":"e","s":"SB10-14-12.9","x":15,"y":0.265},{"p":"e","s":"SB10-14-12.9","x":16,"y":0.28},{"p":"e","s":"SB10-14-12.9","x":17,"y":0.29},{"p":"e","s":"SB10-14-12.9","x":18,"y":0.295},{"p":"e","s":"SB10-14-12.9","x":19,"y":0.3},{"p":"e","s":"SB10-14-12.9","x":19.7,"y":0.31},{"p":"e","s":"SB10-14-12.9","x":20.3,"y":0.315},{"p":"e","s":"SB10-14-12.9","x":20.8,"y":0.3},{"p":"e","s":"SB10-14-12.9","x":21.3,"y":0.26},{"p":"e","s":"SB10-14-12.9","x":21.8,"y":0.21},{"p":"e","s":"SB10-14-12.9","x":22.2,"y":0.18},{"p":"e","s":"SB10-14-12.9","x":22.7,"y":0.15}
    ],
    "labels": [
      {"p":"a","t":"SB0-10","x":11.8,"y":0.30},{"p":"a","t":"SB0-13","x":15.7,"y":0.34},{"p":"a","t":"SB0-16","x":18.5,"y":0.44},{"p":"a","t":"SB0-19","x":23.3,"y":0.34},{"p":"a","t":"SB0-22","x":26.2,"y":0.53},
      {"p":"b","t":"SB2-22-8.6","x":25.4,"y":0.586},{"p":"b","t":"SB2-19-8.5","x":21.9,"y":0.477},{"p":"b","t":"SB2-14-8.7","x":19,"y":0.342},{"p":"b","t":"SB2-11-8.7","x":14.4,"y":0.244},
      {"p":"c","t":"SB4-21-6.8","x":23.4,"y":0.447},{"p":"c","t":"SB4-17-6.1","x":20.7,"y":0.338},{"p":"c","t":"SB4-14-6.0","x":15.5,"y":0.338},{"p":"c","t":"SB4-11-6.2","x":13.3,"y":0.238},
      {"p":"d","t":"SB7-30-9.7","x":23.9,"y":0.743},{"p":"d","t":"SB7-24-9.7","x":25.6,"y":0.54},{"p":"d","t":"SB7-17-10.5","x":17.1,"y":0.43},{"p":"d","t":"SB7-20-9.4","x":22.4,"y":0.43},{"p":"d","t":"SB7-13-10.1","x":15.4,"y":0.218},
      {"p":"e","t":"SB10-63-13.8","x":23.1,"y":0.845},{"p":"e","t":"SB10-24-13.5","x":21.4,"y":0.537},{"p":"e","t":"SB10-17-12.9","x":25.1,"y":0.433},{"p":"e","t":"SB10-20-14.9","x":25.5,"y":0.34},{"p":"e","t":"SB10-14-12.9","x":20.7,"y":0.233}
    ]
  },
  "vconcat": [
    {
      "hconcat": [
        {
          "width": 339, "height": 219,
          "title": {"text": "(a)\u2002SB0\u2003계열\u2003시험체"},
          "encoding": {
            "x": {"field": "x", "type": "quantitative", "scale": {"domain": [0, 35], "nice": false}, "axis": {"values": [0,5,10,15,20,25,30,35], "title": "변위(mm)"}},
            "y": {"field": "y", "type": "quantitative", "scale": {"domain": [0, 1.1], "nice": false}, "axis": {"values": [0,0.1,0.2,0.3,0.4,0.5,0.6,0.7,0.8,0.9,1,1.1], "format": "~g", "title": "하중(tf)", "labelOverlap": false, "gridOpacity": {"condition": {"test": "datum.value < 0.05 || datum.value > 1.05", "value": 0}, "value": 1}}}
          },
          "layer": [
            {"data": {"name": "curves"}, "transform": [{"filter": "datum.p == 'a'"}],
             "mark": {"type": "line", "clip": true},
             "encoding": {
               "detail": {"field": "s"},
               "color": {"field": "s", "legend": null, "scale": {"domain": ["SB0-10","SB0-13","SB0-16","SB0-19","SB0-22"], "range": ["#000","#666","#000","#000","#555"]}},
               "strokeDash": {"field": "s", "legend": null, "scale": {"domain": ["SB0-10","SB0-13","SB0-16","SB0-19","SB0-22"], "range": [[1,0],[1.5,2],[1,0],[1,0],[5,2,1,2]]}},
               "strokeWidth": {"field": "s", "legend": null, "scale": {"domain": ["SB0-10","SB0-13","SB0-16","SB0-19","SB0-22"], "range": [1.3,1,1.8,1.2,1]}}
             }},
            {"data": {"name": "labels"}, "transform": [{"filter": "datum.p == 'a'"}],
             "mark": {"type": "text", "font": "Liberation Sans", "fontSize": 6.5, "fontWeight": "bold", "color": "#000"},
             "encoding": {"text": {"field": "t"}}}
          ]
        },
        {
          "width": 339, "height": 219,
          "title": {"text": "(b)\u2002SB2\u2003계열\u2003시험체"},
          "encoding": {
            "x": {"field": "x", "type": "quantitative", "scale": {"domain": [0, 35], "nice": false}, "axis": {"values": [0,5,10,15,20,25,30,35], "title": "변위(mm)"}},
            "y": {"field": "y", "type": "quantitative", "scale": {"domain": [0, 1.1], "nice": false}, "axis": {"values": [0,0.1,0.2,0.3,0.4,0.5,0.6,0.7,0.8,0.9,1,1.1], "format": "~g", "title": "하중(tf)", "labelOverlap": false, "gridOpacity": {"condition": {"test": "datum.value < 0.05 || datum.value > 1.05", "value": 0}, "value": 1}}}
          },
          "layer": [
            {"data": {"name": "curves"}, "transform": [{"filter": "datum.p == 'b'"}],
             "mark": {"type": "line", "clip": true},
             "encoding": {
               "detail": {"field": "s"},
               "color": {"field": "s", "legend": null, "scale": {"domain": ["SB2-22-8.6","SB2-19-8.5","SB2-14-8.7","SB2-11-8.7"], "range": ["#000","#000","#666","#000"]}},
               "strokeDash": {"field": "s", "legend": null, "scale": {"domain": ["SB2-22-8.6","SB2-19-8.5","SB2-14-8.7","SB2-11-8.7"], "range": [[1,0],[1,0],[1.5,2],[1,0]]}},
               "strokeWidth": {"field": "s", "legend": null, "scale": {"domain": ["SB2-22-8.6","SB2-19-8.5","SB2-14-8.7","SB2-11-8.7"], "range": [1.7,1.2,1,1.2]}}
             }},
            {"data": {"name": "labels"}, "transform": [{"filter": "datum.p == 'b'"}],
             "mark": {"type": "text", "font": "Liberation Sans", "fontSize": 6.5, "fontWeight": "bold", "color": "#000"},
             "encoding": {"text": {"field": "t"}}}
          ]
        },
        {
          "width": 339, "height": 219,
          "title": {"text": "(c)\u2002SB4\u2003계열\u2003시험체"},
          "encoding": {
            "x": {"field": "x", "type": "quantitative", "scale": {"domain": [0, 35], "nice": false}, "axis": {"values": [0,5,10,15,20,25,30,35], "title": "변위(mm)"}},
            "y": {"field": "y", "type": "quantitative", "scale": {"domain": [0, 1.1], "nice": false}, "axis": {"values": [0,0.1,0.2,0.3,0.4,0.5,0.6,0.7,0.8,0.9,1,1.1], "format": "~g", "title": "하중(tf)", "labelOverlap": false, "gridOpacity": {"condition": {"test": "datum.value < 0.05 || datum.value > 1.05", "value": 0}, "value": 1}}}
          },
          "layer": [
            {"data": {"name": "curves"}, "transform": [{"filter": "datum.p == 'c'"}],
             "mark": {"type": "line", "clip": true},
             "encoding": {
               "detail": {"field": "s"},
               "color": {"field": "s", "legend": null, "scale": {"domain": ["SB4-21-6.8","SB4-17-6.1","SB4-14-6.0","SB4-11-6.2"], "range": ["#000","#000","#666","#000"]}},
               "strokeDash": {"field": "s", "legend": null, "scale": {"domain": ["SB4-21-6.8","SB4-17-6.1","SB4-14-6.0","SB4-11-6.2"], "range": [[1,0],[1,0],[1.5,2],[1,0]]}},
               "strokeWidth": {"field": "s", "legend": null, "scale": {"domain": ["SB4-21-6.8","SB4-17-6.1","SB4-14-6.0","SB4-11-6.2"], "range": [1.5,1.2,1,1.2]}}
             }},
            {"data": {"name": "labels"}, "transform": [{"filter": "datum.p == 'c'"}],
             "mark": {"type": "text", "font": "Liberation Sans", "fontSize": 6.5, "fontWeight": "bold", "color": "#000"},
             "encoding": {"text": {"field": "t"}}}
          ]
        }
      ],
      "spacing": 5,
      "resolve": {"scale": {"color": "independent", "strokeDash": "independent", "strokeWidth": "independent"}}
    },
    {
      "hconcat": [
        {
          "width": 342, "height": 216,
          "title": {"text": "(d)\u2002SB7\u2003계열\u2003시험체"},
          "encoding": {
            "x": {"field": "x", "type": "quantitative", "scale": {"domain": [0, 35], "nice": false}, "axis": {"values": [0,5,10,15,20,25,30,35], "title": "변위(mm)"}},
            "y": {"field": "y", "type": "quantitative", "scale": {"domain": [0, 1.1], "nice": false}, "axis": {"values": [0,0.1,0.2,0.3,0.4,0.5,0.6,0.7,0.8,0.9,1,1.1], "format": "~g", "title": "하중(tf)", "labelOverlap": false, "gridOpacity": {"condition": {"test": "datum.value < 0.05 || datum.value > 1.05", "value": 0}, "value": 1}}}
          },
          "layer": [
            {"data": {"name": "curves"}, "transform": [{"filter": "datum.p == 'd'"}],
             "mark": {"type": "line", "clip": true},
             "encoding": {
               "detail": {"field": "s"},
               "color": {"field": "s", "legend": null, "scale": {"domain": ["SB7-30-9.7","SB7-24-9.7","SB7-20-9.4","SB7-17-10.5","SB7-13-10.1"], "range": ["#555","#000","#000","#666","#000"]}},
               "strokeDash": {"field": "s", "legend": null, "scale": {"domain": ["SB7-30-9.7","SB7-24-9.7","SB7-20-9.4","SB7-17-10.5","SB7-13-10.1"], "range": [[4,2],[1,0],[1,0],[1.5,2],[1,0]]}},
               "strokeWidth": {"field": "s", "legend": null, "scale": {"domain": ["SB7-30-9.7","SB7-24-9.7","SB7-20-9.4","SB7-17-10.5","SB7-13-10.1"], "range": [1,1.8,1.2,1,1.2]}}
             }},
            {"data": {"name": "labels"}, "transform": [{"filter": "datum.p == 'd'"}],
             "mark": {"type": "text", "font": "Liberation Sans", "fontSize": 6.5, "fontWeight": "bold", "color": "#000"},
             "encoding": {"text": {"field": "t"}}}
          ]
        },
        {
          "width": 341, "height": 216,
          "title": {"text": "(e)\u2002SB10\u2003계열\u2003시험체"},
          "encoding": {
            "x": {"field": "x", "type": "quantitative", "scale": {"domain": [0, 35], "nice": false}, "axis": {"values": [0,5,10,15,20,25,30,35], "title": "변위(mm)"}},
            "y": {"field": "y", "type": "quantitative", "scale": {"domain": [0, 1.1], "nice": false}, "axis": {"values": [0,0.1,0.2,0.3,0.4,0.5,0.6,0.7,0.8,0.9,1,1.1], "format": "~g", "title": "하중(tf)", "labelOverlap": false, "gridOpacity": {"condition": {"test": "datum.value < 0.05 || datum.value > 1.05", "value": 0}, "value": 1}}}
          },
          "layer": [
            {"data": {"name": "curves"}, "transform": [{"filter": "datum.p == 'e'"}],
             "mark": {"type": "line", "clip": true},
             "encoding": {
               "detail": {"field": "s"},
               "color": {"field": "s", "legend": null, "scale": {"domain": ["SB10-63-13.8","SB10-24-13.5","SB10-17-12.9","SB10-20-14.9","SB10-14-12.9"], "range": ["#555","#000","#777","#000","#000"]}},
               "strokeDash": {"field": "s", "legend": null, "scale": {"domain": ["SB10-63-13.8","SB10-24-13.5","SB10-17-12.9","SB10-20-14.9","SB10-14-12.9"], "range": [[4,2],[1,0],[1.5,2],[1,0],[1,0]]}},
               "strokeWidth": {"field": "s", "legend": null, "scale": {"domain": ["SB10-63-13.8","SB10-24-13.5","SB10-17-12.9","SB10-20-14.9","SB10-14-12.9"], "range": [1,1.8,1,1.2,1.2]}}
             }},
            {"data": {"name": "labels"}, "transform": [{"filter": "datum.p == 'e'"}],
             "mark": {"type": "text", "font": "Liberation Sans", "fontSize": 6.5, "fontWeight": "bold", "color": "#000"},
             "encoding": {"text": {"field": "t"}}}
          ]
        }
      ],
      "spacing": 5,
      "resolve": {"scale": {"color": "independent", "strokeDash": "independent", "strokeWidth": "independent"}}
    }
  ],
  "spacing": 18,
  "center": true,
  "resolve": {"scale": {"color": "independent", "strokeDash": "independent", "strokeWidth": "independent"}},
  "config": {
    "view": {"stroke": "#333", "strokeDash": [3, 2], "strokeWidth": 0.8},
    "axis": {"labelFont": "Liberation Sans", "labelFontSize": 6, "labelFontWeight": "bold", "labelColor": "#000", "titleFont": "Noto Sans CJK KR", "titleFontSize": 6.5, "titleFontWeight": "bold", "titleColor": "#000", "domain": false, "ticks": false},
    "axisX": {"grid": false, "labelPadding": 6, "titlePadding": 3},
    "axisY": {"grid": true, "gridColor": "#000", "gridWidth": 1.3, "labelPadding": 5, "titlePadding": 5, "minExtent": 14, "maxExtent": 14, "labelOverlap": false},
    "title": {"orient": "bottom", "font": "Noto Sans CJK KR", "fontSize": 18, "fontWeight": "normal", "color": "#000", "frame": "bounds", "anchor": "middle", "offset": 33}
  }
}
